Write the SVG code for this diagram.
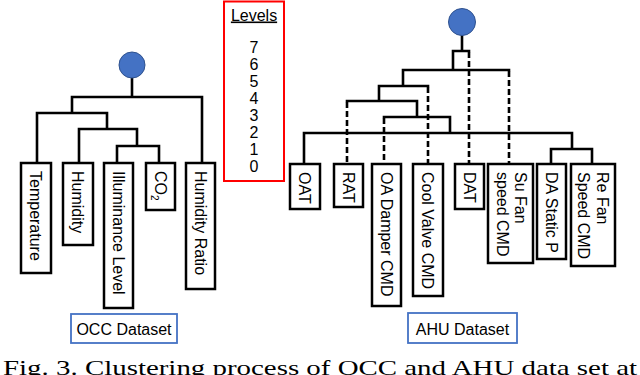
<svg xmlns="http://www.w3.org/2000/svg" width="640" height="375" viewBox="0 0 640 375">
<style>
.bg{fill:#fff}
.box{fill:#fff;stroke:#000;stroke-width:2.5}
.lbl{font-family:"Liberation Sans",Arial,sans-serif;font-size:16px;fill:#000}
.ln{fill:none;stroke:#000;stroke-width:2.6;stroke-linecap:square}
.dash{fill:none;stroke:#000;stroke-width:2.6;stroke-dasharray:6 3}
.root{fill:#4472C4;stroke:#2F528F;stroke-width:1}
.ds{fill:#fff;stroke:#4472C4;stroke-width:1.8}
.dst{font-family:"Liberation Sans",Arial,sans-serif;font-size:16px;fill:#000;text-anchor:middle}
.lev{font-family:"Liberation Sans",Arial,sans-serif;font-size:16px;fill:#000;text-anchor:middle}
.cap{font-family:"Liberation Serif","Times New Roman",serif;font-size:22px;fill:#000}
</style>
<rect class="bg" width="640" height="375"/>

<g id="connectors">
  <path class="ln" d="M132 78V97M72 113V97H202V163M37 163V113H107V129M79 163V129H137V146M117 163V146H159V163"/>
  <path class="ln" d="M462 36V51M453 70V51H469M403 86V70H509M379 101V86H428M417 117V101H347M450 133V117H384M304 164V133H572V149M551 164V149H592V164"/>
  <path class="dash" d="M469 52V164M509 71V164M428 87V164M347 102V164M384 118V164"/>
</g>

<g id="occ-root"><circle class="root" cx="132" cy="65" r="13"/></g>
<g id="ahu-root"><circle class="root" cx="462" cy="22" r="13.5"/></g>

<g id="n-temperature"><rect class="box" x="21" y="163" width="30" height="110"/>
  <text class="lbl" transform="translate(36,171) rotate(90)" y="5.6">Temperature</text></g>
<g id="n-humidity"><rect class="box" x="63" y="163" width="30" height="82"/>
  <text class="lbl" transform="translate(78,171) rotate(90)" y="5.6">Humidity</text></g>
<g id="n-illuminance"><rect class="box" x="104" y="163" width="29" height="145"/>
  <text class="lbl" transform="translate(118.5,171) rotate(90)" y="5.6">Illuminance Level</text></g>
<g id="n-co2"><rect class="box" x="146" y="163" width="29" height="47"/>
  <text class="lbl" transform="translate(160.5,171) rotate(90)" y="5.6">CO<tspan font-size="10" dy="4">2</tspan></text></g>
<g id="n-humratio"><rect class="box" x="186" y="163" width="29" height="126"/>
  <text class="lbl" transform="translate(200.5,171) rotate(90)" y="5.6">Humidity Ratio</text></g>

<g id="levels">
  <rect x="224" y="1.5" width="60" height="179.5" fill="#fff" stroke="#FF0000" stroke-width="2"/>
  <text class="lev" x="254" y="20.5" font-size="15" text-decoration="underline">Levels</text>
  <text class="lev" x="254" y="53">7</text>
  <text class="lev" x="254" y="70">6</text>
  <text class="lev" x="254" y="87">5</text>
  <text class="lev" x="254" y="104">4</text>
  <text class="lev" x="254" y="121">3</text>
  <text class="lev" x="254" y="138">2</text>
  <text class="lev" x="254" y="155">1</text>
  <text class="lev" x="254" y="172">0</text>
</g>

<g id="n-oat"><rect class="box" x="290" y="164" width="30" height="45"/>
  <text class="lbl" transform="translate(305,172) rotate(90)" y="5.6">OAT</text></g>
<g id="n-rat"><rect class="box" x="334" y="164" width="29" height="43"/>
  <text class="lbl" transform="translate(348.5,172) rotate(90)" y="5.6">RAT</text></g>
<g id="n-oadamper"><rect class="box" x="372" y="164" width="29" height="142"/>
  <text class="lbl" transform="translate(386.5,172) rotate(90)" y="5.6">OA Damper CMD</text></g>
<g id="n-coolvalve"><rect class="box" x="413" y="164" width="30" height="132"/>
  <text class="lbl" transform="translate(428,172) rotate(90)" y="5.6">Cool Valve CMD</text></g>
<g id="n-dat"><rect class="box" x="455" y="164" width="29" height="45"/>
  <text class="lbl" transform="translate(469.5,172) rotate(90)" y="5.6">DAT</text></g>
<g id="n-sufan"><rect class="box" x="488" y="164" width="45" height="99"/>
  <text class="lbl" transform="translate(510.5,172) rotate(90)"><tspan x="0" y="-4">Su Fan</tspan><tspan x="0" y="14">speed CMD</tspan></text></g>
<g id="n-dastatic"><rect class="box" x="537" y="164" width="29" height="95"/>
  <text class="lbl" transform="translate(551.5,172) rotate(90)" y="5.6">DA Static P</text></g>
<g id="n-refan"><rect class="box" x="571" y="164" width="44" height="102"/>
  <text class="lbl" transform="translate(593,172) rotate(90)"><tspan x="0" y="-3.5">Re Fan</tspan><tspan x="0" y="15">Speed CMD</tspan></text></g>

<g id="occ-dataset"><rect class="ds" x="71" y="314" width="106" height="29"/>
  <text class="dst" x="124" y="334.5">OCC Dataset</text></g>
<g id="ahu-dataset"><rect class="ds" x="408" y="313" width="109" height="30"/>
  <text class="dst" x="462.5" y="334.5">AHU Dataset</text></g>

<text class="cap" x="3" y="375" textLength="634" lengthAdjust="spacingAndGlyphs">Fig. 3. Clustering process of OCC and AHU data set at</text>
</svg>
